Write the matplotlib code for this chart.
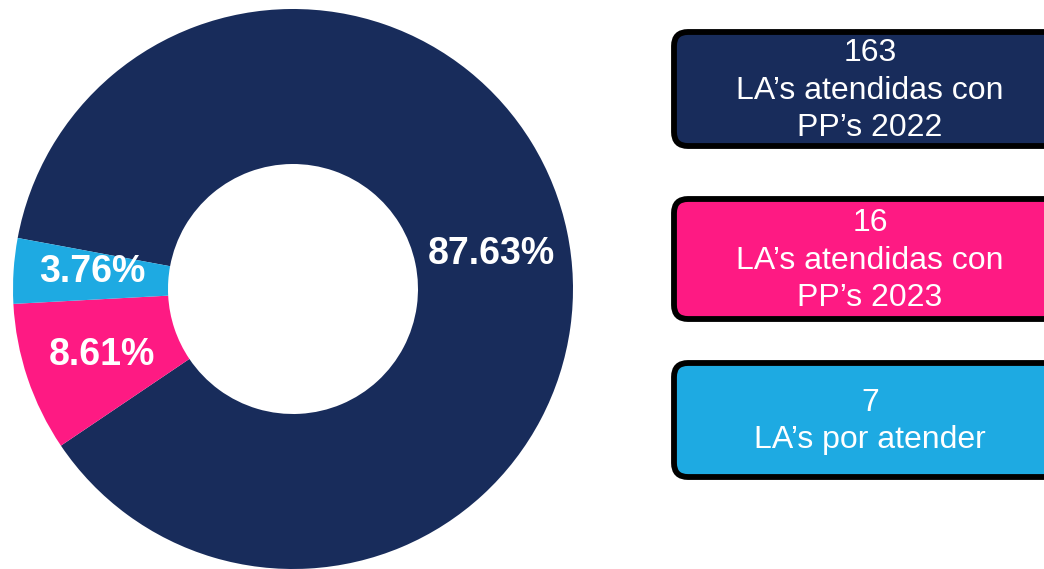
import matplotlib
matplotlib.use("Agg")
import matplotlib.pyplot as plt
from matplotlib.patches import FancyBboxPatch
import numpy as np

plt.rcParams["font.family"] = ["Liberation Sans", "DejaVu Sans"]

# ---- datos ----
counts = [163, 16, 7]
pct_labels = ["87.63%", "8.61%", "3.76%"]
box_labels = ["163\nLA\u2019s atendidas con\nPP\u2019s 2022",
              "16\nLA\u2019s atendidas con\nPP\u2019s 2023",
              "7\nLA\u2019s por atender"]
colors = ["#182c5b", "#fe1a83", "#1eaae2"]

W, H = 1044, 569
fig = plt.figure(figsize=(W / 100, H / 100), dpi=100)

# ---- dona ----
cx, cy, r_out, r_in = 293, 289, 280, 125
ax = fig.add_axes([(cx - r_out) / W, (H - cy - r_out) / H,
                   2 * r_out / W, 2 * r_out / H])
wedges, _ = ax.pie(counts, colors=colors, startangle=169.5,
                   counterclock=False, radius=1.0,
                   wedgeprops=dict(width=1 - r_in / r_out, linewidth=0))
ax.set_xlim(-1, 1)
ax.set_ylim(-1, 1)
ax.set_aspect("equal")
ax.axis("off")

# pequeno ajuste de angulo por etiqueta (como en el original)
ang_shift = [-1.7, 0.5, -1.0]
for w, lab, da in zip(wedges, pct_labels, ang_shift):
    ang = np.deg2rad((w.theta1 + w.theta2) / 2 + da)
    ax.text(0.72 * np.cos(ang), 0.72 * np.sin(ang), lab,
            ha="center", va="center", color="white",
            fontsize=27, fontweight="bold")

# ---- cajas de leyenda ----
ov = fig.add_axes([0, 0, 1, 1])
ov.set_xlim(0, W)
ov.set_ylim(H, 0)
ov.axis("off")

box_top = [29, 196, 360]
box_bot = [149, 322, 480]
for top, bot, c, txt in zip(box_top, box_bot, colors, box_labels):
    ov.add_patch(FancyBboxPatch((674, top + 3), 420, bot - top - 6,
                 boxstyle="round,pad=0,rounding_size=14",
                 fc=c, ec="black", lw=4.2, clip_on=True))
    ov.text(870, (top + bot) / 2 + 1.5, txt, ha="center", va="center",
            color="white", fontsize=23, linespacing=1.33)

fig.savefig("out.png", dpi=100)
